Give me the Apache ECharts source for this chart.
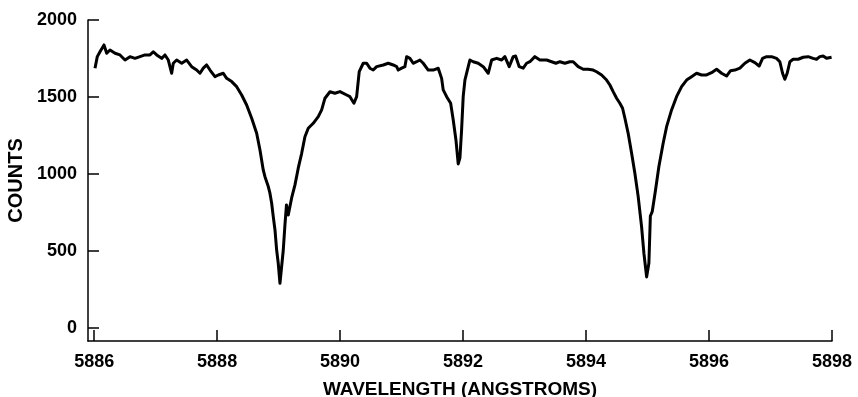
<!DOCTYPE html>
<html>
<head>
<meta charset="utf-8">
<script src="https://cdn.jsdelivr.net/npm/echarts@6/dist/echarts.min.js"></script>
<style>
  html, body { margin: 0; padding: 0; background: #fff; }
  #chart { width: 858px; height: 397px; }
</style>
</head>
<body>
<div id="chart"></div>
<script>
// spectrum: wavelength (angstroms) and counts
var wavelength = [
    5886.014, 5886.051, 5886.095, 5886.160, 5886.204, 5886.258, 5886.339, 5886.420, 5886.502, 5886.583,
    5886.664, 5886.746, 5886.827, 5886.908, 5886.962, 5887.017, 5887.098, 5887.152, 5887.206, 5887.261,
    5887.287, 5887.342, 5887.424, 5887.505, 5887.586, 5887.667, 5887.721, 5887.775, 5887.830, 5887.884,
    5887.965, 5888.019, 5888.100, 5888.155, 5888.237, 5888.318, 5888.399, 5888.480, 5888.562, 5888.643,
    5888.697, 5888.750, 5888.778, 5888.832, 5888.859, 5888.887, 5888.913, 5888.941, 5888.968, 5888.994,
    5889.022, 5889.076, 5889.103, 5889.128, 5889.157, 5889.185, 5889.212, 5889.266, 5889.320, 5889.375,
    5889.428, 5889.482, 5889.563, 5889.645, 5889.700, 5889.754, 5889.835, 5889.916, 5889.998, 5890.107,
    5890.160, 5890.225, 5890.269, 5890.311, 5890.376, 5890.432, 5890.485, 5890.539, 5890.594, 5890.702,
    5890.783, 5890.864, 5890.920, 5890.946, 5891.001, 5891.054, 5891.082, 5891.136, 5891.189, 5891.245,
    5891.298, 5891.352, 5891.433, 5891.515, 5891.596, 5891.651, 5891.677, 5891.733, 5891.798, 5891.840,
    5891.884, 5891.921, 5891.949, 5891.976, 5892.002, 5892.030, 5892.084, 5892.111, 5892.165, 5892.246,
    5892.328, 5892.409, 5892.464, 5892.546, 5892.627, 5892.680, 5892.750, 5892.815, 5892.854, 5892.913,
    5892.978, 5893.033, 5893.087, 5893.168, 5893.250, 5893.359, 5893.440, 5893.510, 5893.575, 5893.656,
    5893.737, 5893.791, 5893.872, 5893.954, 5894.035, 5894.116, 5894.171, 5894.253, 5894.334, 5894.388,
    5894.441, 5894.497, 5894.550, 5894.594, 5894.632, 5894.685, 5894.741, 5894.794, 5894.848, 5894.903,
    5894.941, 5894.985, 5895.022, 5895.046, 5895.076, 5895.130, 5895.184, 5895.254, 5895.310, 5895.391,
    5895.472, 5895.554, 5895.635, 5895.716, 5895.798, 5895.879, 5895.960, 5896.041, 5896.123, 5896.204,
    5896.285, 5896.350, 5896.420, 5896.502, 5896.583, 5896.664, 5896.746, 5896.815, 5896.871, 5896.936,
    5897.017, 5897.098, 5897.152, 5897.196, 5897.233, 5897.271, 5897.315, 5897.368, 5897.450, 5897.531,
    5897.612, 5897.693, 5897.749, 5897.802, 5897.856, 5897.911, 5897.993
];
var counts = [
    1687, 1762, 1794, 1838, 1784, 1805, 1784, 1773, 1740, 1762,
    1751, 1762, 1773, 1773, 1794, 1773, 1751, 1773, 1740, 1654,
    1719, 1740, 1719, 1740, 1697, 1675, 1654, 1687, 1708, 1675,
    1632, 1643, 1654, 1621, 1600, 1567, 1513, 1448, 1362, 1264,
    1156, 1026, 982, 918, 875, 810, 723, 636, 506, 420,
    290, 506, 669, 799, 734, 745, 844, 929, 1039, 1134,
    1242, 1297, 1329, 1372, 1416, 1492, 1534, 1524, 1535, 1513,
    1502, 1459, 1502, 1664, 1719, 1719, 1687, 1675, 1697, 1708,
    1719, 1708, 1697, 1675, 1687, 1697, 1762, 1751, 1719, 1729,
    1740, 1719, 1675, 1675, 1687, 1621, 1546, 1502, 1459, 1351,
    1221, 1065, 1104, 1286, 1502, 1610, 1697, 1740, 1729, 1719,
    1697, 1654, 1740, 1751, 1740, 1762, 1697, 1762, 1766, 1697,
    1687, 1719, 1729, 1762, 1740, 1740, 1729, 1719, 1729, 1719,
    1729, 1729, 1697, 1680, 1680, 1675, 1664, 1643, 1610, 1578,
    1535, 1492, 1459, 1427, 1362, 1264, 1134, 1005, 853, 658,
    485, 331, 420, 727, 755, 896, 1047, 1199, 1307, 1416,
    1502, 1567, 1610, 1632, 1654, 1643, 1643, 1658, 1680, 1654,
    1636, 1671, 1675, 1687, 1719, 1740, 1723, 1701, 1751, 1762,
    1762, 1751, 1729, 1654, 1615, 1654, 1729, 1745, 1745, 1758,
    1762, 1751, 1745, 1762, 1766, 1751, 1758
];
var xTicks = [5886, 5888, 5890, 5892, 5894, 5896, 5898];
var yTicks = [0, 500, 1000, 1500, 2000];

var seriesData = [];
for (var i = 0; i < wavelength.length; i++) {
    seriesData.push([wavelength[i], counts[i]]);
}

var chart = echarts.init(document.getElementById('chart'));
var fontFamily = '"Liberation Sans", Arial, sans-serif';

// plain numbers, no thousands separator
function plain(v) {
    return String(v);
}

chart.setOption({
    animation: false,
    backgroundColor: '#fff',
    grid: {left: 88, right: 26, top: 20, bottom: 56, containLabel: false, outerBoundsMode: 'none'},
    xAxis: {
        type: 'value',
        min: 5885.9,
        max: 5898,
        name: 'WAVELENGTH (ANGSTROMS)',
        nameLocation: 'middle',
        nameGap: 39,
        nameTextStyle: {color: '#000', fontFamily: fontFamily, fontWeight: 'bold', fontSize: 19},
        axisLine: {show: true, onZero: false, lineStyle: {color: '#000', width: 1.5}},
        axisTick: {show: true, inside: true, length: 11, customValues: xTicks, lineStyle: {color: '#000', width: 1.5}},
        axisLabel: {customValues: xTicks, formatter: plain, margin: 12, color: '#000', fontFamily: fontFamily, fontWeight: 'bold', fontSize: 18},
        splitLine: {show: false}
    },
    yAxis: {
        type: 'value',
        min: -85,
        max: 2000,
        name: 'COUNTS',
        nameLocation: 'middle',
        nameGap: 58,
        nameRotate: 90,
        nameTextStyle: {color: '#000', fontFamily: fontFamily, fontWeight: 'bold', fontSize: 20},
        axisLine: {show: true, onZero: false, lineStyle: {color: '#000', width: 1.5}},
        axisTick: {show: true, inside: true, length: 11, customValues: yTicks, lineStyle: {color: '#000', width: 1.5}},
        axisLabel: {customValues: yTicks, formatter: plain, margin: 11, color: '#000', fontFamily: fontFamily, fontWeight: 'bold', fontSize: 18},
        splitLine: {show: false}
    },
    series: [{
        type: 'line',
        data: seriesData,
        symbol: 'none',
        lineStyle: {color: '#000', width: 3, join: 'round'}
    }]
});
</script>
</body>
</html>
